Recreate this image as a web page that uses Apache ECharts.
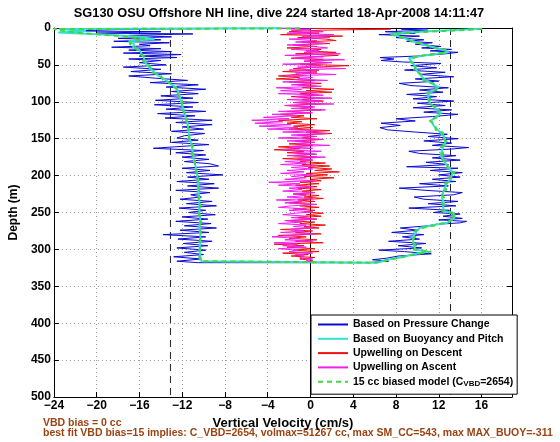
<!DOCTYPE html>
<html><head><meta charset="utf-8">
<script src="https://cdn.jsdelivr.net/npm/echarts@6/dist/echarts.min.js"></script>
<style>html,body{margin:0;padding:0;background:#fff}#chart{width:560px;height:442px}</style>
</head><body><div id="chart"></div>
<script>
const titleText = 'SG130 OSU Offshore NH line, dive 224 started 18-Apr-2008 14:11:47';
const xAxisName = 'Vertical Velocity (cm/s)';
const yAxisName = 'Depth (m)';
const xTickValues = [-24, -20, -16, -12, -8, -4, 0, 4, 8, 12, 16];
const seriesNames = ['Based on Pressure Change', 'Based on Buoyancy and Pitch', 'Upwelling on Descent', 'Upwelling on Ascent', '15 cc biased model (CVBD=2654)'];
const footnotes = ['VBD bias = 0 cc', 'best fit VBD bias=15 implies: C_VBD=2654, volmax=51267 cc, max SM_CC=543, max MAX_BUOY=-311'];
const biasLineVelocities = [-13.1, 13.1];
const zeroLineVelocity = 0;

// [depth (m), vertical velocity (cm/s)]
const pressureDescent = [[0,-1],[1,-12],[2,-18],[4,-22],[5,-14],[7,-20],[8,-11],[10,-17],[12,-13],[14,-18],[16,-14],[18,-18.4],[20,-13.2],[22,-16],[24,-15],[26,-18.6],[28,-14],[30,-17],[32,-13],[34,-17.5],[36,-12.1],[38,-16],[40,-12.5],[42,-17],[44,-14],[47,-16],[50,-13.5],[53,-17.5],[56,-14],[59,-16.8],[62,-13],[65,-17],[68,-14.5],[71,-11.5],[74,-15],[77,-10.5],[80,-13.5],[83,-9.8],[86,-13],[89,-10.5],[92,-14],[95,-11],[98,-14.5],[101,-10.5],[104,-14.6],[107,-11],[110,-13.5],[113,-9.8],[116,-14.3],[119,-10.8],[122,-13.6],[125,-9.2],[128,-12.6],[131,-9.2],[134,-12],[137,-10],[140,-13],[143,-9.9],[146,-11.8],[149,-12.5],[152,-10.5],[155,-13],[158,-9.5],[161,-12.7],[163,-14.7],[166,-10],[169,-12.6],[172,-9.8],[175,-12],[178,-9.5],[181,-11.8],[184,-9.4],[187,-8.6],[190,-12],[193,-9.4],[196,-11.6],[199,-8.2],[202,-11.5],[205,-9.5],[208,-12.5],[211,-9],[214,-11.5],[217,-8.6],[220,-12.6],[223,-9.4],[226,-11.2],[229,-10.2],[232,-12.2],[235,-9.2],[238,-11.6],[241,-8.8],[244,-12.3],[247,-9.8],[250,-11.4],[253,-8.9],[256,-12.0],[259,-9.6],[262,-12.6],[265,-9.3],[268,-11.8],[271,-8.8],[274,-12.2],[277,-9.5],[280,-13.8],[283,-9.8],[286,-12.4],[289,-9.2],[292,-11.9],[295,-9.6],[298,-12.5],[301,-9.8],[304,-11.8],[307,-10.0],[310,-12.8],[313,-10.2],[316,-12.5],[318,-10.5]];
const pressureAscent = [[318,5.2],[316,7.3],[314,5.8],[312,7.1],[309,8.2],[306,11.3],[303,8.8],[301,6.4],[298,10.4],[295,8.2],[292,10.8],[289,7.3],[286,10.2],[283,8.6],[280,10.6],[277,7.6],[274,10.0],[271,8.4],[268,11.0],[266,11.8],[264,14.0],[262,14.6],[260,12.0],[258,14.2],[255,12.4],[252,14.0],[250,11.5],[247,13.0],[244,9.2],[241,13.6],[238,11.0],[235,13.8],[232,10.6],[229,9.7],[226,13.4],[223,14.2],[220,10.8],[217,8.3],[214,12.9],[211,10.2],[208,13.6],[205,11.4],[202,14.0],[199,12.0],[196,14.2],[193,11.2],[190,13.8],[188,9.0],[185,12.9],[182,10.8],[179,14.0],[176,11.4],[173,13.6],[170,10.2],[167,9.2],[164,13.2],[162,14.8],[159,11.4],[156,13.2],[153,10.6],[150,13.8],[147,11.0],[144,12.8],[141,9.8],[138,7.2],[135,6.5],[132,8.4],[129,6.6],[126,9.8],[123,8.0],[120,11.4],[117,13.8],[114,10.6],[111,13.2],[108,9.6],[105,12.6],[102,10.0],[99,13.4],[96,9.6],[93,11.8],[90,9.0],[87,12.4],[84,10.2],[81,12.9],[78,9.4],[75,8.3],[72,12.0],[69,9.8],[66,13.4],[63,10.2],[60,12.6],[57,8.8],[54,11.8],[51,9.4],[48,12.2],[46,8.6],[44,6.6],[42,7.8],[40,6.5],[38,10.0],[35,12.6],[33,13.8],[31,11.2],[29,13.2],[27,10.4],[25,12.2],[22,9.8],[20,11.4],[18,9.0],[16,10.6],[13,8.0],[11,10.2],[9,6.4],[7,9.8],[5,7.0],[3,11.0],[1.5,8.5],[0.5,11]];
const buoyancyDescent = [[0.5,-3],[1.5,-23.5],[4,-21],[6,-23.6],[9,-19],[12,-16],[15,-14.6],[18,-17],[22,-16.5],[26,-16.6],[30,-16],[35,-15.8],[40,-15.6],[45,-15.5],[50,-15.3],[55,-15.0],[60,-14.6],[65,-14.2],[70,-13.6],[75,-13.2],[80,-12.6],[85,-12.4],[90,-12.3],[100,-12.1],[110,-11.9],[120,-11.7],[130,-11.5],[140,-11.4],[150,-11.3],[160,-11.1],[170,-11.0],[180,-10.9],[190,-10.7],[200,-10.6],[210,-10.5],[220,-10.5],[230,-10.4],[240,-10.4],[250,-10.4],[260,-10.3],[270,-10.4],[280,-10.3],[290,-10.3],[300,-10.4],[310,-10.3],[316,-10.2],[318,-10.3]];
const buoyancyAscent = [[318,6.2],[314,7.2],[310,8.8],[306,9.8],[303,11.0],[300,9.8],[295,9.7],[290,9.6],[283,9.6],[276,9.9],[271,10.2],[267,11.5],[264,12.8],[259,13.3],[256,13.5],[251,13.4],[248,12.5],[243,12.4],[237,12.5],[230,12.3],[224,12.4],[219,12.5],[212,12.7],[206,13.0],[200,13.2],[197,13.3],[190,13.0],[183,12.6],[176,12.3],[170,12.2],[162,12.4],[155,12.6],[147,12.5],[142,12.2],[138,11.9],[132,11.5],[125,11.3],[120,11.8],[115,12.2],[110,11.8],[102,11.2],[95,11.0],[88,11.1],[84,11.6],[80,12.0],[75,11.3],[70,10.7],[64,10.3],[57,9.9],[50,9.7],[46,9.5],[41,9.2],[37,10.8],[33,12.9],[30,12.5],[26,11.5],[22,10.5],[18,9.6],[14,8.8],[10,8.0],[8,7.5],[6,9.0],[4,11.5],[2,14.5],[1,16]];
const modelDescent = [[0.5,-1],[1.5,-24],[4,-23],[6,-22],[9,-19.5],[12,-17],[15,-15.5],[18,-16.8],[22,-16.9],[26,-16.4],[30,-16.2],[35,-15.9],[40,-15.4],[45,-15.7],[50,-15.1],[55,-14.9],[60,-14.8],[65,-14.0],[70,-13.8],[75,-13.0],[80,-12.8],[85,-12.3],[90,-12.4],[100,-12.0],[110,-12.0],[120,-11.6],[130,-11.6],[140,-11.3],[150,-11.4],[160,-11.0],[170,-11.1],[180,-10.8],[190,-10.8],[200,-10.5],[210,-10.6],[220,-10.4],[230,-10.5],[240,-10.3],[250,-10.5],[260,-10.2],[270,-10.4],[280,-10.2],[290,-10.4],[300,-10.3],[310,-10.4],[316,-10.3],[318,-10.4]];
const modelAscent = [[318,6.0],[314,7.4],[310,8.6],[306,10.0],[303,11.3],[300,9.6],[295,9.9],[290,9.4],[283,9.8],[276,9.7],[271,10.4],[267,11.8],[264,12.6],[259,13.5],[256,13.3],[251,13.6],[248,12.3],[243,12.6],[237,12.3],[230,12.5],[224,12.2],[219,12.7],[212,12.5],[206,13.2],[200,13.0],[197,13.5],[190,12.8],[183,12.8],[176,12.1],[170,12.4],[162,12.2],[155,12.8],[147,12.3],[142,12.4],[138,11.7],[132,11.7],[125,11.1],[120,12.0],[115,12.0],[110,12.0],[102,11.0],[95,11.2],[88,10.9],[84,11.8],[80,11.8],[75,11.5],[70,10.5],[64,10.5],[57,9.7],[50,9.9],[46,9.3],[41,9.4],[37,10.6],[33,12.7],[30,12.7],[26,11.3],[22,10.7],[18,9.4],[14,9.0],[10,7.8],[8,7.6],[6,9.5],[4,12.5],[2,15.5],[1,16.2]];
const upwellingDescent = [[0.5,0],[1.5,7.5],[3,1.0],[5,-2.0],[7,0.8],[9,-2.8],[11,3.0],[13,-1.2],[15,1.4],[17,2.4],[19,-0.8],[21,1.8],[23,-1.6],[25,0.6],[27,-2.2],[29,1.0],[31,-0.4],[33,2.4],[35,-1.4],[37,2.6],[39,0.2],[41,-1.8],[43,1.2],[45,-0.6],[47,1.6],[49,-1.0],[51,3.6],[53,0.4],[55,-1.6],[57,0.8],[59,-2.6],[61,0.6],[63,-1.4],[65,-3.0],[67,-1.0],[69,-3.2],[71,0.4],[73,-2.0],[75,1.0],[77,-1.2],[79,0.6],[81,-0.8],[83,2.2],[85,-0.4],[87,2.0],[89,-1.0],[91,0.8],[93,-1.8],[95,0.4],[97,-0.8],[99,1.2],[101,-1.6],[103,0.6],[105,-2.4],[107,0.2],[109,-1.0],[111,1.0],[113,-2.2],[115,0.0],[117,-2.8],[119,-0.6],[121,-1.8],[123,0.6],[125,-3.0],[127,-0.8],[129,-2.2],[131,0.4],[133,-1.6],[135,0.2],[137,-2.0],[139,1.8],[141,-0.4],[143,2.0],[145,-1.2],[147,0.4],[149,-0.8],[151,1.0],[153,-1.4],[155,0.4],[157,-2.0],[159,0.2],[161,-3.0],[163,-1.0],[165,-3.4],[167,-0.6],[169,-2.2],[171,0.4],[173,-1.6],[175,0.6],[177,-2.6],[179,0.2],[181,-1.0],[183,1.4],[185,-0.8],[187,1.8],[189,-0.2],[191,2.0],[193,0.4],[195,2.7],[197,-0.4],[199,1.6],[201,-0.6],[203,2.2],[205,0.0],[207,1.0],[209,-1.0],[211,0.8],[213,-1.4],[215,0.6],[217,-1.2],[219,1.0],[221,-0.8],[223,0.4],[225,-1.6],[227,0.8],[229,-0.6],[231,1.2],[233,-1.2],[235,0.4],[237,-2.0],[239,0.2],[241,-1.0],[243,0.8],[245,-1.6],[247,0.4],[249,-0.6],[251,1.2],[253,-0.4],[255,1.0],[257,-1.2],[259,0.6],[261,-2.2],[263,0.4],[265,-1.0],[267,1.4],[269,-0.6],[271,0.8],[273,-2.8],[275,0.2],[277,-1.4],[279,1.0],[281,-3.0],[283,-0.4],[285,-2.0],[287,0.6],[289,-1.4],[291,1.2],[293,-3.4],[295,-0.6],[297,-2.2],[299,0.4],[301,-1.6],[303,0.8],[305,-2.6],[307,-0.2],[309,-1.8],[311,0.4],[313,-1.0],[315,0.2],[317,0]];
const upwellingAscent = [[0.5,-3.0],[1.5,0],[3,-1.8],[5,1.2],[7,-2.2],[9,2.2],[11,-0.8],[13,1.8],[15,-2.0],[17,0.6],[19,-1.4],[21,1.4],[23,-2.2],[25,0.2],[27,1.6],[29,-1.8],[31,0.8],[33,-0.6],[35,2.8],[37,-2.4],[39,1.2],[41,-1.6],[43,3.2],[45,-0.6],[47,2.0],[49,-2.6],[51,1.0],[53,-1.2],[55,3.3],[57,-2.0],[59,0.6],[61,-1.4],[63,2.4],[65,-2.4],[67,0.2],[69,-1.2],[71,1.6],[73,-2.6],[75,0.4],[77,-1.8],[79,1.0],[81,-3.2],[83,-0.8],[85,-2.8],[87,0.6],[89,-3.0],[91,1.2],[93,-1.4],[95,2.0],[97,-2.2],[99,0.8],[101,-1.6],[103,2.2],[105,-2.4],[107,0.4],[109,-1.8],[111,1.4],[113,-3.0],[115,0.2],[117,-3.6],[119,-1.2],[121,-4.4],[123,-2.0],[125,-5.5],[127,-2.6],[129,-5.2],[131,-1.8],[133,-4.8],[135,-1.2],[137,-4.0],[139,0.8],[141,-2.6],[143,1.6],[145,-1.8],[147,0.6],[149,-3.0],[151,1.2],[153,-2.2],[155,0.4],[157,-1.4],[159,1.8],[161,-2.0],[163,0.2],[165,-2.6],[167,1.0],[169,-1.6],[171,0.6],[173,-2.2],[175,1.4],[177,-1.2],[179,0.2],[181,-2.4],[183,-0.4],[185,-2.8],[187,0.4],[189,-1.8],[191,0.2],[193,-2.2],[195,-0.6],[197,-2.8],[199,0.2],[201,-1.8],[203,-0.4],[205,-2.4],[207,0.4],[209,-3.9],[211,-1.0],[213,-3.0],[215,0.2],[217,-2.0],[219,-0.8],[221,-2.6],[223,0.4],[225,-1.6],[227,-0.4],[229,-2.2],[231,0.2],[233,-3.2],[235,-0.8],[237,-2.4],[239,0.6],[241,-1.8],[243,-3.0],[245,-0.4],[247,-2.0],[249,0.2],[251,-1.4],[253,-2.6],[255,-0.2],[257,-1.8],[259,0.4],[261,-2.4],[263,-0.8],[265,-3.0],[267,-0.4],[269,-1.6],[271,0.2],[273,-2.0],[275,-0.6],[277,-2.8],[279,0.4],[281,-1.6],[283,-3.6],[285,-1.0],[287,-2.4],[289,0.2],[291,-3.4],[293,-1.2],[295,-2.6],[297,-0.4],[299,-3.0],[301,-1.2],[303,-2.0],[305,0.2],[307,-1.4],[309,-0.6],[311,-1.0],[313,0.2],[315,-0.4],[317,0]];

const FONT = "'Liberation Sans', Arial, Helvetica, sans-serif";
const toXY = arr => arr.map(p => [p[1], p[0]]);
const fmtTick = v => xTickValues.indexOf(v) >= 0 ? String(v).replace('-', '\u2212') : '';

const chart = echarts.init(document.getElementById('chart'), null, { renderer: 'canvas' });

function lineSeries(name, data, color, width, type, z) {
  return {
    name, type: 'line', data: toXY(data), xAxisIndex: 0, yAxisIndex: 0,
    showSymbol: false, symbol: 'none', silent: true, z,
    lineStyle: { color, width, type }, itemStyle: { color }
  };
}
function vline(x, dashed) {
  return {
    type: 'line', data: [[x, 0], [x, 500]], showSymbol: false, symbol: 'none', silent: true,
    lineStyle: { color: dashed ? '#222' : '#000', width: 1, type: dashed ? [7, 5] : 'solid' }, z: 1
  };
}

const gridLine = { show: true, lineStyle: { color: '#9a9a9a', width: 1, type: [1, 3] } };
const axisLine = { show: true, onZero: false, lineStyle: { color: '#000', width: 1 } };
const tick = { show: true, inside: true, length: 5, lineStyle: { color: '#000' } };

const option = {
  animation: false,
  backgroundColor: '#fff',
  title: {
    text: titleText, left: 279, textAlign: 'center', top: 7, padding: 0,
    textStyle: { fontFamily: FONT, fontSize: 12.8, fontWeight: 'bold', color: '#000' }
  },
  grid: { left: 46, top: 28, right: 48, bottom: 45, containLabel: false },
  xAxis: [
    { type: 'value', min: -24, max: 18.85, interval: 4, position: 'bottom',
      name: xAxisName, nameLocation: 'middle', nameGap: 19,
      nameTextStyle: { fontFamily: FONT, fontSize: 13, fontWeight: 'bold', color: '#000' },
      axisLine, axisTick: tick, splitLine: gridLine,
      axisLabel: { formatter: fmtTick, margin: 3, fontFamily: FONT, fontSize: 12, fontWeight: 'bold', color: '#000', showMaxLabel: false } },
    { type: 'value', min: -24, max: 18.85, interval: 4, position: 'top',
      axisLine, axisTick: tick, splitLine: { show: false }, axisLabel: { show: false } }
  ],
  yAxis: [
    { type: 'value', inverse: true, min: 0, max: 500, interval: 50, position: 'left',
      name: yAxisName, nameLocation: 'middle', nameGap: 33, nameRotate: 90,
      nameTextStyle: { fontFamily: FONT, fontSize: 12, fontWeight: 'bold', color: '#000' },
      axisLine, axisTick: tick, splitLine: gridLine,
      axisLabel: { margin: 3, fontFamily: FONT, fontSize: 12, fontWeight: 'bold', color: '#000' } },
    { type: 'value', inverse: true, min: 0, max: 500, interval: 50, position: 'right',
      axisLine, axisTick: tick, splitLine: { show: false }, axisLabel: { show: false } }
  ],
  legend: {
    data: seriesNames, orient: 'vertical', left: 311, top: 315,
    itemWidth: 30, itemHeight: 10, itemGap: 3.3,
    padding: [4, 4, 6, 6], borderColor: '#000', borderWidth: 1, backgroundColor: '#fff',
    selectedMode: false,
    itemStyle: { opacity: 0 },
    formatter: name => name === seriesNames[4] ? '15 cc biased model (C{sub|VBD}=2654)' : name,
    textStyle: { fontFamily: FONT, fontSize: 10.5, fontWeight: 'bold', color: '#000',
      rich: { sub: { fontFamily: FONT, fontSize: 8, fontWeight: 'bold', color: '#000', padding: [5, 0, 0, 0] } } }
  },
  graphic: [
    { type: 'text', left: 43, top: 418, silent: true,
      style: { text: footnotes[0], fill: '#9a4414', font: 'bold 10.5px ' + FONT } },
    { type: 'text', left: 43, top: 428, silent: true,
      style: { text: footnotes[1], fill: '#9a4414', font: 'bold 10.5px ' + FONT } }
  ],
  series: [
    lineSeries(seriesNames[0], pressureDescent.concat(pressureAscent), '#0a0ad2', 1, 'solid', 2),
    lineSeries(seriesNames[1], buoyancyDescent.concat(buoyancyAscent), '#35e0d2', 2, 'solid', 3),
    lineSeries(seriesNames[2], upwellingDescent, '#ee1111', 1, 'solid', 4),
    lineSeries(seriesNames[3], upwellingAscent, '#f020f0', 1, 'solid', 5),
    lineSeries(seriesNames[4], modelDescent.concat(modelAscent), '#40d840', 2, [5, 4], 6),
    vline(biasLineVelocities[0], true),
    vline(biasLineVelocities[1], true),
    vline(zeroLineVelocity, false)
  ]
};
chart.setOption(option);
</script>
</body></html>
